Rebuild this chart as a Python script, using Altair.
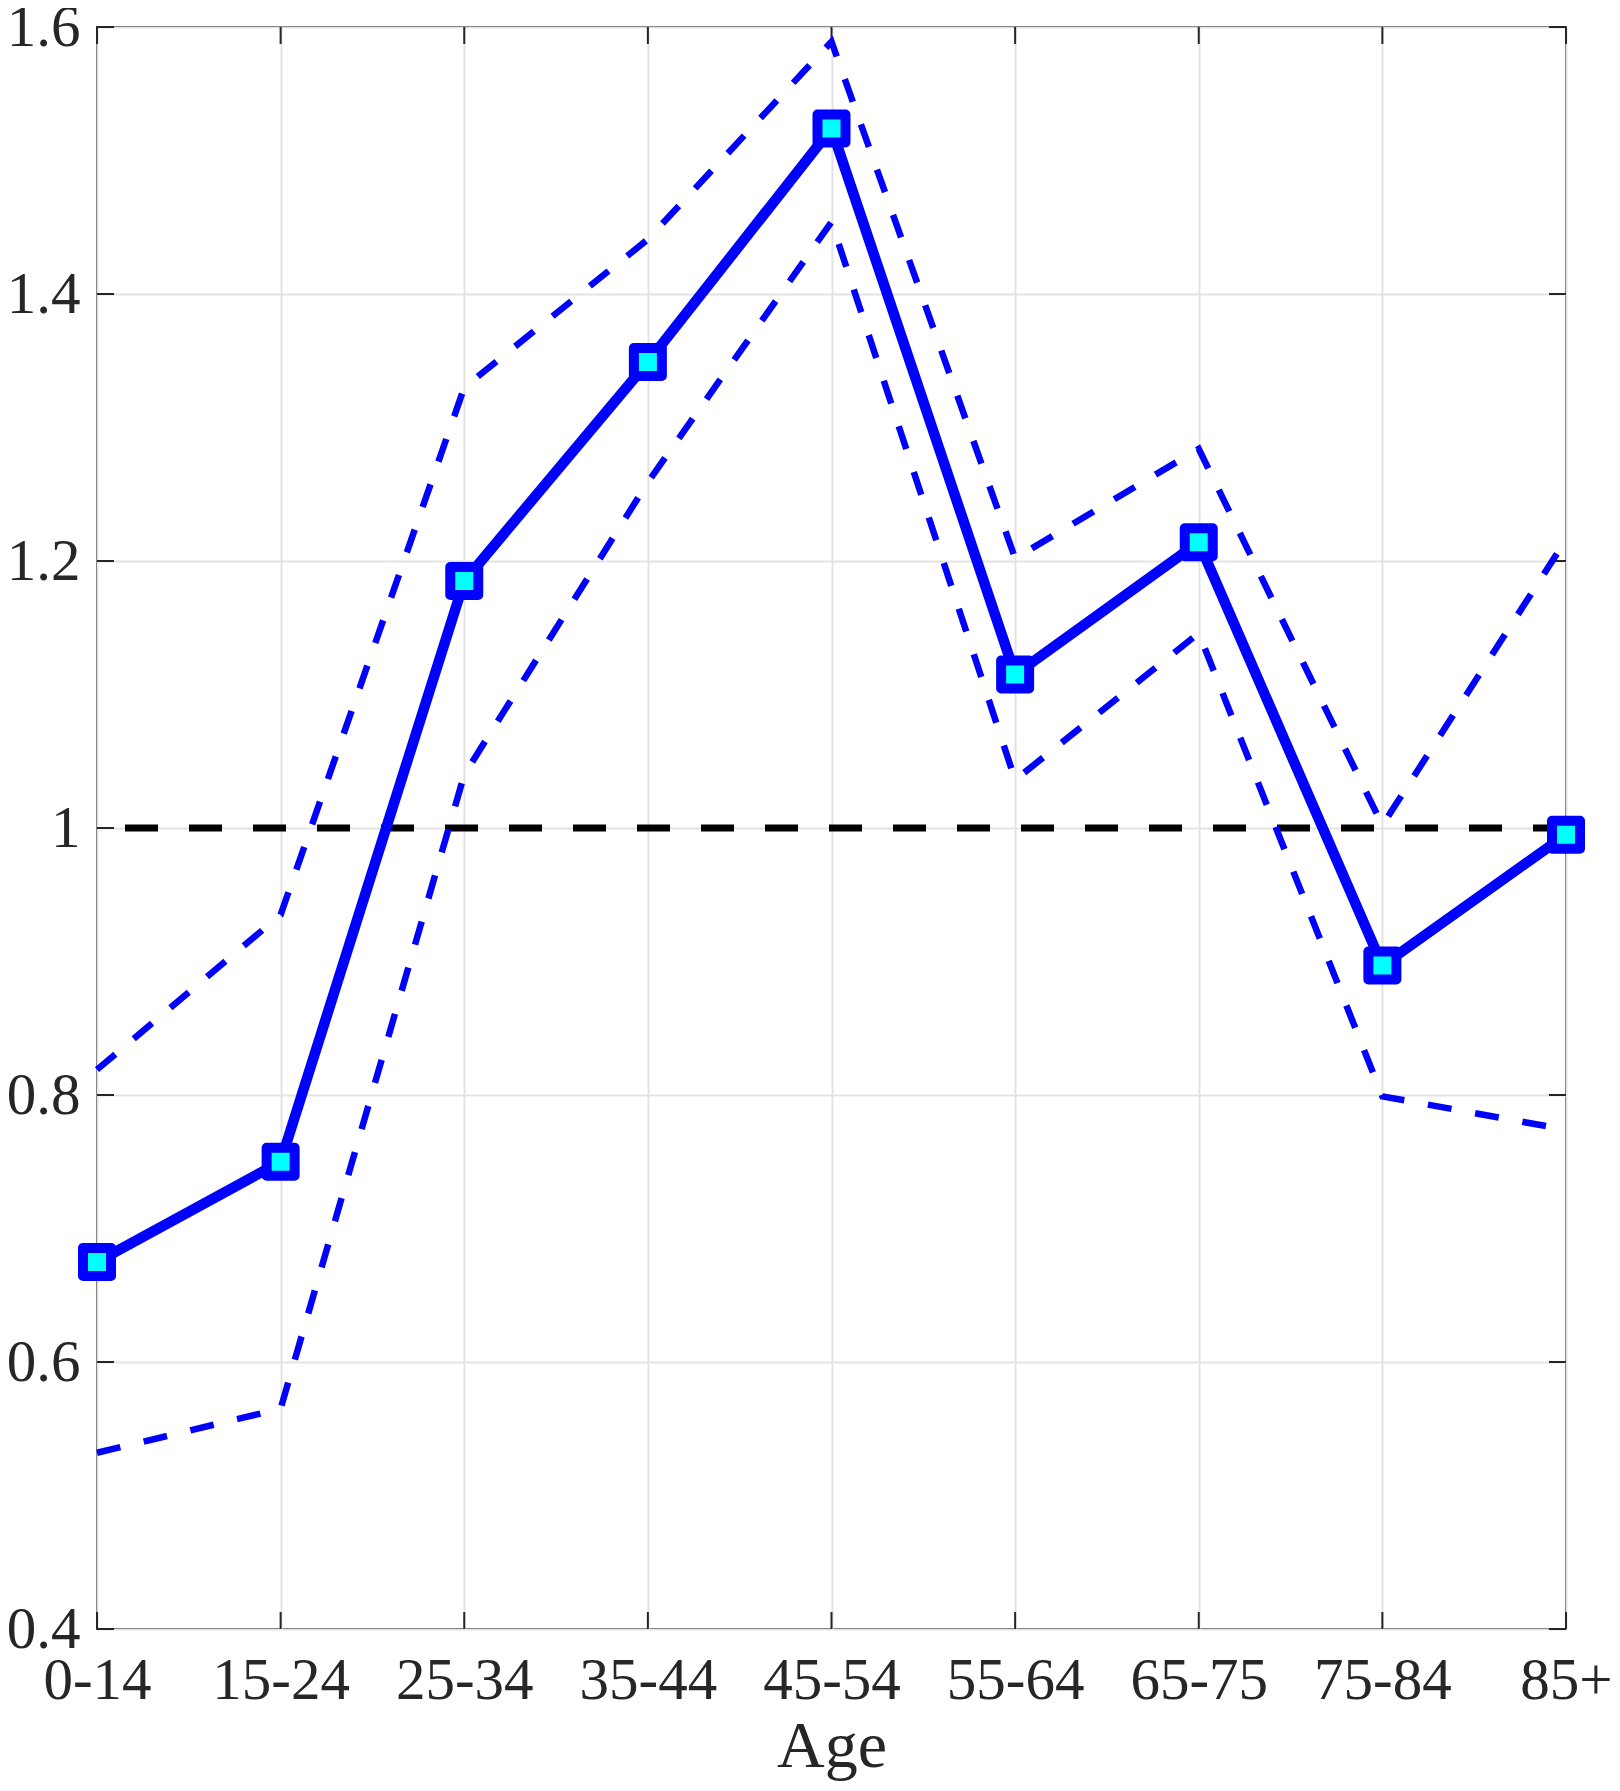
import altair as alt
import pandas as pd

categories = ["0-14", "15-24", "25-34", "35-44", "45-54", "55-64", "65-75", "75-84", "85+"]
main_vals = [0.675, 0.750, 1.185, 1.349, 1.524, 1.115, 1.214, 0.897, 0.995]
upper_vals = [0.819, 0.935, 1.330, 1.441, 1.589, 1.202, 1.284, 1.002, 1.216]
lower_vals = [0.532, 0.565, 1.040, 1.259, 1.454, 1.036, 1.146, 0.799, 0.774]
y_ticks = [0.4, 0.6, 0.8, 1.0, 1.2, 1.4, 1.6]
ref_value = [1.0]

FONT = "Liberation Serif"
AX = "#262626"
BLUE = "#0000ff"
CYAN = "#00ffff"

df_main = pd.DataFrame({"age": categories, "value": main_vals})
df_ci = pd.concat([
    pd.DataFrame({"age": categories, "value": upper_vals, "bound": "upper"}),
    pd.DataFrame({"age": categories, "value": lower_vals, "bound": "lower"}),
])
df_ref = pd.DataFrame({"value": ref_value})
df_xt = pd.DataFrame({"age": categories, "lo": [y_ticks[0]] * len(categories), "hi": [y_ticks[-1]] * len(categories)})
df_yl = pd.DataFrame({"age": [categories[0]] * len(y_ticks), "value": y_ticks})
df_yr = pd.DataFrame({"age": [categories[-1]] * len(y_ticks), "value": y_ticks})

x_enc = alt.X(
    "age:N",
    sort=categories,
    scale=alt.Scale(type="point", padding=0, domain=categories),
    axis=alt.Axis(
        title="Age", labelAngle=0, labelAlign="center", labelBaseline="top",
        labelFont=FONT, labelFontSize=59, labelColor=AX,
        titleFont=FONT, titleFontSize=66, titleFontWeight="normal", titleColor=AX,
        titlePadding=4, labelPadding=22, ticks=False, tickSize=0, domain=False,
        grid=True, gridColor="#e3e3e3", gridWidth=2, labelOverlap=False,
        labelFlush=False,
    ),
)
y_scale = alt.Scale(domain=[0.4, 1.6], nice=False, zero=False)
y_enc = alt.Y(
    "value:Q",
    scale=y_scale,
    axis=alt.Axis(
        title=None, values=y_ticks, format=".1~f", labelFont=FONT, labelFontSize=59,
        labelColor=AX, labelPadding=17, ticks=False, tickSize=0, domain=False,
        grid=True, gridColor="#e3e3e3", gridWidth=2, labelOverlap=False,
        labelFlush=False, labelAlign="right", labelBaseline="middle",
    ),
)

base_x = alt.X("age:N", sort=categories, scale=alt.Scale(type="point", padding=0, domain=categories))

ref_line = alt.Chart(df_ref).mark_rule(
    color="black", strokeWidth=7, strokeDash=[33, 31], strokeCap="butt"
).encode(y=alt.Y("value:Q", scale=y_scale))

ci_lines = alt.Chart(df_ci).mark_line(
    color=BLUE, strokeWidth=6.5, strokeDash=[24, 24], strokeCap="butt"
).encode(x=base_x, y=alt.Y("value:Q", scale=y_scale), detail="bound:N")

main_line = alt.Chart(df_main).mark_line(
    color=BLUE, strokeWidth=10.5, strokeJoin="round"
).encode(x=x_enc, y=y_enc)

markers = alt.Chart(df_main).mark_point(
    shape="square", filled=True, fill=CYAN, stroke=BLUE, strokeWidth=10,
    size=784, opacity=1, strokeJoin="round"
).encode(x=base_x, y=alt.Y("value:Q", scale=y_scale))

bottom_ticks = alt.Chart(df_xt).mark_rule(color=AX, strokeWidth=2, y2Offset=-17).encode(
    x=base_x, y=alt.Y("lo:Q", scale=y_scale), y2="lo:Q")
top_ticks = alt.Chart(df_xt).mark_rule(color=AX, strokeWidth=2, y2Offset=17).encode(
    x=base_x, y=alt.Y("hi:Q", scale=y_scale), y2="hi:Q")
left_ticks = alt.Chart(df_yl).mark_rule(color=AX, strokeWidth=2, x2Offset=17).encode(
    x=base_x, x2="age:N", y=alt.Y("value:Q", scale=y_scale))
right_ticks = alt.Chart(df_yr).mark_rule(color=AX, strokeWidth=2, x2Offset=-17).encode(
    x=base_x, x2="age:N", y=alt.Y("value:Q", scale=y_scale))

chart = alt.layer(
    bottom_ticks, top_ticks, left_ticks, right_ticks,
    ref_line, ci_lines, main_line, markers,
).properties(
    width=1469, height=1602,
    autosize=alt.AutoSizeParams(type="none"),
    padding={"left": 89, "top": 19, "right": 46, "bottom": 154},
    background="white",
).configure_view(stroke=AX, strokeWidth=2)

chart.save("out.html", embed_options={"renderer": "svg", "actions": False})
